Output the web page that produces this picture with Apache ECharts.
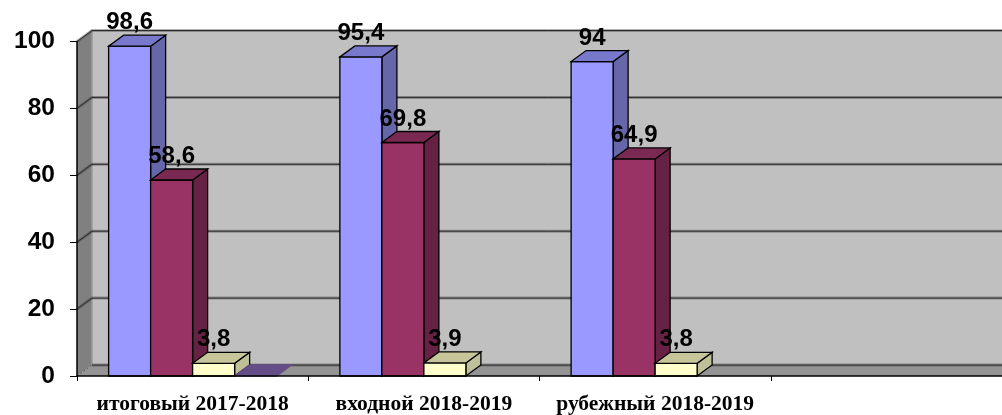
<!DOCTYPE html>
<html>
<head>
<meta charset="utf-8">
<style>html,body{margin:0;padding:0;background:#fff}#c{width:1002px;height:415px}</style>
<script src="https://cdn.jsdelivr.net/npm/echarts@6/dist/echarts.min.js"></script>
</head>
<body>
<div id="c"></div>
<script>
const categories = ['итоговый 2017-2018', 'входной 2018-2019', 'рубежный 2018-2019', ''];
const seriesOne = [98.6, 95.4, 94, null];
const seriesTwo = [58.6, 69.8, 64.9, null];
const seriesThree = [3.8, 3.9, 3.8, null];
const seriesFour = [0, null, null, null];
const yTicks = [0, 20, 40, 60, 80, 100];

const DX = 15, DY = -11, BAR_RATIO = 42 / 231.25, SLOTS = 4;

function pts(arr) { return { points: arr }; }

function barSeries(name, values, slot, front, side, top, edge, showLabel) {
  return {
    type: 'custom',
    name: name,
    coordinateSystem: 'cartesian2d',
    z: 3,
    data: values.map((v, i) => [i, v]).filter(d => d[1] !== null),
    renderItem(params, api) {
      const band = api.size([1, 0])[0];
      const w = band * BAR_RATIO;
      const c = api.coord([api.value(0), api.value(1)]);
      const base = api.coord([api.value(0), 0]);
      const x0 = c[0] - w * SLOTS / 2 + w * slot, x1 = x0 + w;
      const yt = c[1], yb = base[1];
      const line = { stroke: edge, lineWidth: 1.3 };
      const children = [];
      if (yb - yt > 0.5) {
        children.push(
          { type: 'polygon', shape: pts([[x1, yt], [x1 + DX, yt + DY], [x1 + DX, yb + DY], [x1, yb]]), style: { fill: side, ...line } },
          { type: 'rect', shape: { x: x0, y: yt, width: w, height: yb - yt }, style: { fill: front, ...line } }
        );
      }
      children.push({ type: 'polygon', shape: pts([[x0, yt], [x1, yt], [x1 + DX, yt + DY], [x0 + DX, yt + DY]]), style: { fill: top, ...line } });
      if (showLabel) {
        children.push({
          type: 'text', z2: 100,
          style: {
            x: (x0 + x1) / 2, y: yt - 11.5,
            text: String(api.value(1)).replace('.', ','),
            fill: '#000', align: 'center', verticalAlign: 'bottom',
            font: 'bold 24px "Liberation Sans", Arial, sans-serif'
          }
        });
      }
      return { type: 'group', children: children };
    }
  };
}

const wallSeries = {
  type: 'custom',
  name: 'walls',
  coordinateSystem: 'cartesian2d',
  z: 1,
  silent: true,
  data: [[0, 0]],
  renderItem(params, api) {
    const cs = params.coordSys;
    const l = cs.x, r = cs.x + cs.width + DX, t = cs.y, b = cs.y + cs.height;
    const kids = [
      { type: 'rect', shape: { x: l + DX, y: t + DY, width: r - l - DX, height: b - t }, style: { fill: '#C0C0C0', stroke: 'none' } },
      { type: 'polygon', shape: pts([[l, t], [l + DX, t + DY], [l + DX, b + DY], [l, b]]), style: { fill: '#808080', stroke: 'none' } },
      { type: 'polygon', shape: pts([[l, b], [l + DX, b + DY], [r, b + DY], [r, b]]), style: { fill: '#949494', stroke: 'none' } },
      { type: 'line', shape: { x1: l + DX, y1: t + DY, x2: l + DX, y2: b + DY }, style: { stroke: '#9a9a9a', lineWidth: 1.5 } },
      { type: 'line', shape: { x1: l, y1: b, x2: l + DX, y2: b + DY }, style: { stroke: '#555', lineWidth: 1, lineDash: [2, 2] } }
    ];
    yTicks.forEach(v => {
      const y = api.coord([0, v])[1];
      const path = v === 0 ? [[l + DX, y + DY], [r, y + DY]] : [[l, y], [l + DX, y + DY], [r, y + DY]];
      kids.push({ type: 'polyline', shape: pts(path), style: { fill: 'none', stroke: 'rgba(60,60,60,0.4)', lineWidth: 3 } });
      kids.push({ type: 'polyline', shape: pts(path), style: { fill: 'none', stroke: '#2a2a2a', lineWidth: 1 } });
    });
    return { type: 'group', children: kids };
  }
};

const chart = echarts.init(document.getElementById('c'), null, { renderer: 'canvas' });
chart.setOption({
  animation: false,
  backgroundColor: '#fff',
  grid: { left: 77, right: 0, top: 41.5, bottom: 39, containLabel: false },
  tooltip: { show: false },
  legend: { show: false },
  xAxis: {
    type: 'category',
    data: categories,
    boundaryGap: true,
    z: 6,
    axisLine: { show: true, lineStyle: { color: '#000', width: 1.5 } },
    axisTick: { show: true, alignWithLabel: false, length: 5, lineStyle: { color: '#000', width: 1 } },
    axisLabel: { interval: 0, margin: 17, color: '#000', fontFamily: '"Liberation Serif", "Times New Roman", serif', fontWeight: 'bold', fontSize: 21.5 },
    splitLine: { show: false }
  },
  yAxis: {
    type: 'value',
    min: 0, max: 100, interval: 20,
    z: 6,
    axisLine: { show: true, lineStyle: { color: '#000', width: 1.5 } },
    axisTick: { show: true, length: 7, lineStyle: { color: '#000', width: 1 } },
    axisLabel: { margin: 22, padding: [3, 0, 0, 0], color: '#000', fontFamily: '"Liberation Sans", Arial, sans-serif', fontWeight: 'bold', fontSize: 24.5 },
    splitLine: { show: false }
  },
  series: [
    wallSeries,
    barSeries('Ряд 1', seriesOne, 0, '#9999FF', '#6666AA', '#7878CC', '#000', true),
    barSeries('Ряд 2', seriesTwo, 1, '#993366', '#662244', '#7A2952', '#000', true),
    barSeries('Ряд 3', seriesThree, 2, '#FFFFCC', '#BFBF99', '#C6C69A', '#000', true),
    barSeries('Ряд 4', seriesFour, 3, '#660066', '#440044', '#654D88', 'rgba(101,77,136,0.9)', false)
  ]
});
</script>
</body>
</html>
